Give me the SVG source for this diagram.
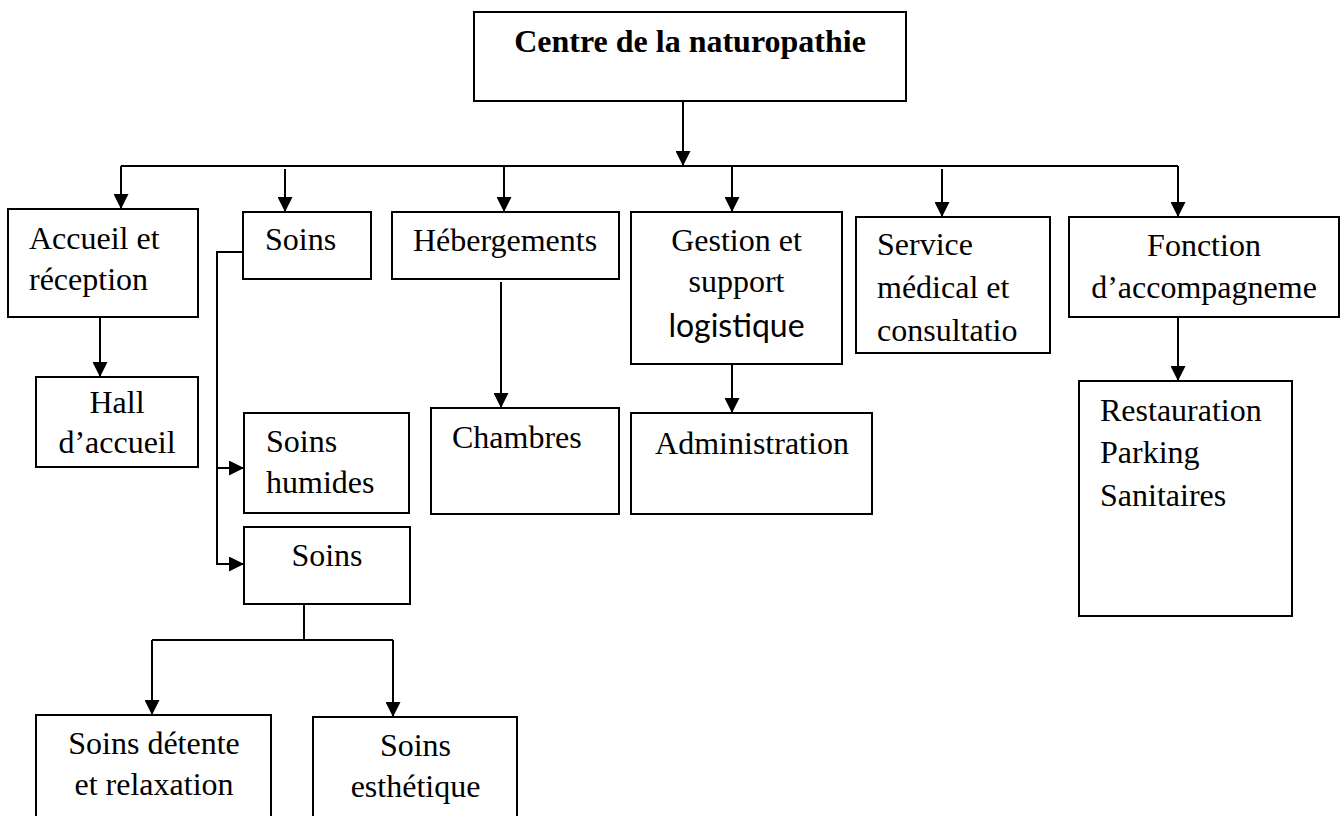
<svg xmlns="http://www.w3.org/2000/svg" width="1343" height="816" viewBox="0 0 1343 816">
  <style>
    .box { fill: #ffffff; stroke: #000000; stroke-width: 2; }
    .wire { fill: none; stroke: #000000; stroke-width: 2; }
    .arrow { marker-end: url(#head); }
    text { font-family: "Liberation Serif", "Times New Roman", serif; font-size: 32px; fill: #000000; }
    .mid { text-anchor: middle; }
    .bold { font-weight: bold; }
    .sans { font-family: Lato, "Liberation Sans", sans-serif; }
  </style>
  <defs>
    <marker id="head" markerUnits="userSpaceOnUse" markerWidth="15" markerHeight="15" refX="15" refY="7.5" orient="auto">
      <path d="M0,0 L15,7.5 L0,15 z" fill="#000000"/>
    </marker>
  </defs>
  <rect width="1343" height="816" fill="#ffffff"/>

  <!-- connectors -->
  <g id="connectors">
    <path class="wire arrow" d="M683,101 V166"/>
    <path class="wire" d="M121,166 H1178"/>
    <path class="wire arrow" d="M121,166 V209"/>
    <path class="wire arrow" d="M285,169 V212"/>
    <path class="wire arrow" d="M504,166 V212"/>
    <path class="wire arrow" d="M732,166 V212"/>
    <path class="wire arrow" d="M942,169 V217"/>
    <path class="wire arrow" d="M1178,166 V217"/>
    <path class="wire arrow" d="M100,317 V377"/>
    <path class="wire arrow" d="M243,252 H217 V564 H244"/>
    <path class="wire arrow" d="M217,468 H244"/>
    <path class="wire arrow" d="M501,282 V408"/>
    <path class="wire arrow" d="M732,364 V413"/>
    <path class="wire arrow" d="M1178,317 V381"/>
    <path class="wire" d="M304,604 V640 M152,640 H393"/>
    <path class="wire arrow" d="M152,640 V715"/>
    <path class="wire arrow" d="M393,640 V717"/>
  </g>

  <!-- nodes -->
  <g id="centre">
    <rect class="box" x="474" y="12" width="432" height="89"/>
    <text class="mid bold" x="690" y="52">Centre de la naturopathie</text>
  </g>
  <g id="accueil">
    <rect class="box" x="8" y="209" width="190" height="108"/>
    <text x="29" y="249">Accueil et</text>
    <text x="29" y="290">réception</text>
  </g>
  <g id="soins">
    <rect class="box" x="243" y="212" width="128" height="67"/>
    <text x="265" y="250">Soins</text>
  </g>
  <g id="hebergements">
    <rect class="box" x="392" y="212" width="227" height="67"/>
    <text class="mid" x="505" y="251">Hébergements</text>
  </g>
  <g id="gestion">
    <rect class="box" x="631" y="212" width="211" height="152"/>
    <text class="mid" x="736.5" y="251">Gestion et</text>
    <text class="mid" x="736.5" y="292">support</text>
    <text class="mid sans" x="736.5" y="337">logistique</text>
  </g>
  <g id="service">
    <rect class="box" x="856" y="217" width="194" height="136"/>
    <text x="877" y="255">Service</text>
    <text x="877" y="298">médical et</text>
    <text x="877" y="341">consultatio</text>
  </g>
  <g id="fonction">
    <rect class="box" x="1069" y="217" width="270" height="100"/>
    <text class="mid" x="1204" y="256">Fonction</text>
    <text class="mid" x="1204" y="298">d’accompagneme</text>
  </g>
  <g id="hall">
    <rect class="box" x="36" y="377" width="162" height="90"/>
    <text class="mid" x="117" y="413">Hall</text>
    <text class="mid" x="117" y="453">d’accueil</text>
  </g>
  <g id="soins-humides">
    <rect class="box" x="244" y="413" width="165" height="100"/>
    <text x="266" y="452">Soins</text>
    <text x="266" y="493">humides</text>
  </g>
  <g id="chambres">
    <rect class="box" x="431" y="408" width="188" height="106"/>
    <text x="452" y="448">Chambres</text>
  </g>
  <g id="administration">
    <rect class="box" x="631" y="413" width="241" height="101"/>
    <text class="mid" x="752" y="454">Administration</text>
  </g>
  <g id="services-annexes">
    <rect class="box" x="1079" y="381" width="213" height="235"/>
    <text x="1100" y="421">Restauration</text>
    <text x="1100" y="463">Parking</text>
    <text x="1100" y="506">Sanitaires</text>
  </g>
  <g id="soins-2">
    <rect class="box" x="244" y="527" width="166" height="77"/>
    <text class="mid" x="327" y="566">Soins</text>
  </g>
  <g id="soins-detente">
    <rect class="box" x="36" y="715" width="235" height="120"/>
    <text class="mid" x="154" y="754">Soins détente</text>
    <text class="mid" x="154" y="795">et relaxation</text>
  </g>
  <g id="soins-esthetique">
    <rect class="box" x="313" y="717" width="204" height="120"/>
    <text class="mid" x="415.5" y="756">Soins</text>
    <text class="mid" x="415.5" y="797">esthétique</text>
  </g>
</svg>
